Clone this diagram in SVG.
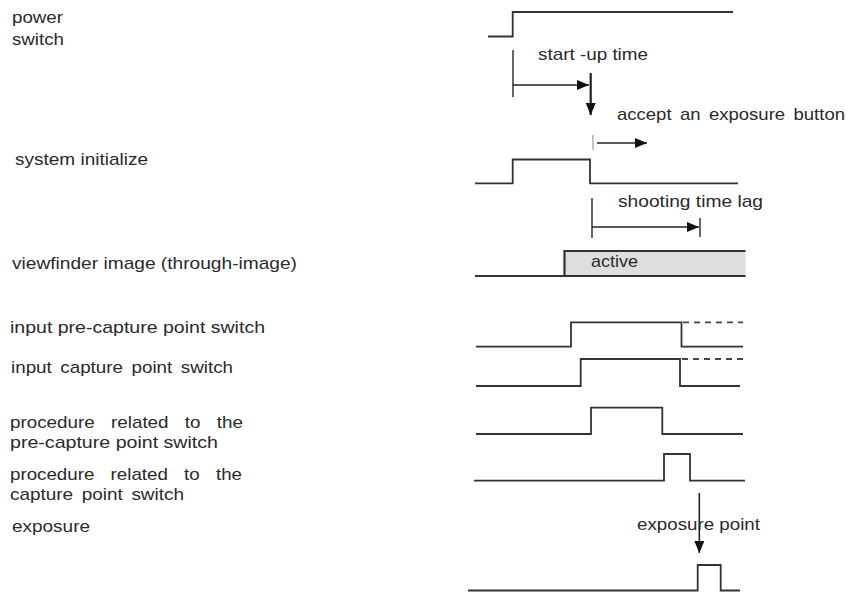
<svg xmlns="http://www.w3.org/2000/svg" width="847" height="592" viewBox="0 0 847 592">
<style>
text { font-family: "Liberation Sans", Arial, sans-serif; font-size: 17px; fill: #2a2a2a; }
.w { fill: none; stroke: #333; stroke-width: 1.8; stroke-linejoin: miter; }
.d { fill: none; stroke: #444; stroke-width: 1.8; stroke-dasharray: 6 5; }
.t { fill: none; stroke: #333; stroke-width: 1.5; }
.a { fill: none; stroke: #222; stroke-width: 1.6; }
</style>
<defs>
<marker id="ah" markerUnits="userSpaceOnUse" markerWidth="14" markerHeight="12" refX="12" refY="5" orient="auto">
<path d="M0,0 L12,5 L0,10 z" fill="#111"/>
</marker>
</defs>
<rect width="847" height="592" fill="#fff"/>

<g id="power-switch">
<text x="12" y="23" textLength="51" lengthAdjust="spacingAndGlyphs">power</text>
<text x="12" y="45" textLength="52" lengthAdjust="spacingAndGlyphs">switch</text>
<polyline class="w" points="488,36.5 512.7,36.5 512.7,12 733,12"/>
</g>

<g id="system-initialize">
<text x="15" y="165" textLength="133" lengthAdjust="spacingAndGlyphs">system initialize</text>
<polyline class="w" points="475,183.3 512.7,183.3 512.7,159.5 590,159.5 590,183.3 738,183.3"/>
</g>

<g id="viewfinder">
<text x="12" y="269" textLength="285" lengthAdjust="spacingAndGlyphs">viewfinder image (through-image)</text>
<rect x="564.5" y="251" width="181" height="25" fill="#dedede" stroke="none"/>
<polyline class="w" points="475,276 745.5,276"/>
<polyline class="w" points="564.5,276 564.5,251 745.5,251" style="stroke-width:2.2"/>
<text x="591" y="267" textLength="47" lengthAdjust="spacingAndGlyphs">active</text>
</g>

<g id="input-pre-capture">
<text x="10" y="333" textLength="255" lengthAdjust="spacingAndGlyphs">input pre-capture point switch</text>
<polyline class="w" points="476,346.7 571,346.7 571,322.3 681.5,322.3 681.5,346.7 743,346.7"/>
<line class="d" x1="683" y1="322.3" x2="743" y2="322.3"/>
</g>

<g id="input-capture">
<text x="11" y="373" textLength="222" lengthAdjust="spacingAndGlyphs" word-spacing="3">input capture point switch</text>
<polyline class="w" points="476,386 580.7,386 580.7,359 680,359 680,386 740,386"/>
<line class="d" x1="682" y1="359" x2="743" y2="359"/>
</g>

<g id="procedure-pre-capture">
<text x="10" y="428" textLength="233" lengthAdjust="spacingAndGlyphs" word-spacing="10">procedure related to the</text>
<text x="10" y="448" textLength="208" lengthAdjust="spacingAndGlyphs">pre-capture point switch</text>
<polyline class="w" points="476,434 591,434 591,407.7 662.3,407.7 662.3,434 743,434"/>
</g>

<g id="procedure-capture">
<text x="10" y="480" textLength="232" lengthAdjust="spacingAndGlyphs" word-spacing="10">procedure related to the</text>
<text x="10" y="500" textLength="174" lengthAdjust="spacingAndGlyphs" word-spacing="3">capture point switch</text>
<polyline class="w" points="474,480.7 664,480.7 664,454 690,454 690,480.7 745,480.7"/>
</g>

<g id="exposure">
<text x="12" y="532" textLength="78" lengthAdjust="spacingAndGlyphs">exposure</text>
<polyline class="w" points="468,590.5 697.7,590.5 697.7,565 720.7,565 720.7,590.5 740,590.5"/>
</g>

<g id="connectors">
<line class="t" x1="513" y1="50" x2="513" y2="97"/>
<line class="a" x1="513" y1="85" x2="589" y2="85" marker-end="url(#ah)"/>
<text x="538" y="60" textLength="110" lengthAdjust="spacingAndGlyphs">start -up time</text>
<line class="a" x1="590.7" y1="73" x2="590.7" y2="115" marker-end="url(#ah)" style="stroke-width:2.2"/>
<text x="617" y="120" textLength="228" lengthAdjust="spacingAndGlyphs" word-spacing="3">accept an exposure button</text>
<line x1="593" y1="135" x2="593" y2="150" stroke="#999" stroke-width="1.2"/>
<line class="a" x1="597" y1="143" x2="647" y2="143" marker-end="url(#ah)"/>
<line class="t" x1="592" y1="198" x2="592" y2="238"/>
<line class="a" x1="592" y1="227" x2="699" y2="227" marker-end="url(#ah)"/>
<line class="t" x1="700" y1="218" x2="700" y2="237"/>
<text x="618" y="207" textLength="145" lengthAdjust="spacingAndGlyphs">shooting time lag</text>
<line class="a" x1="699.3" y1="493" x2="699.3" y2="553" marker-end="url(#ah)"/>
<text x="637" y="530" textLength="123" lengthAdjust="spacingAndGlyphs">exposure point</text>
</g>
</svg>
